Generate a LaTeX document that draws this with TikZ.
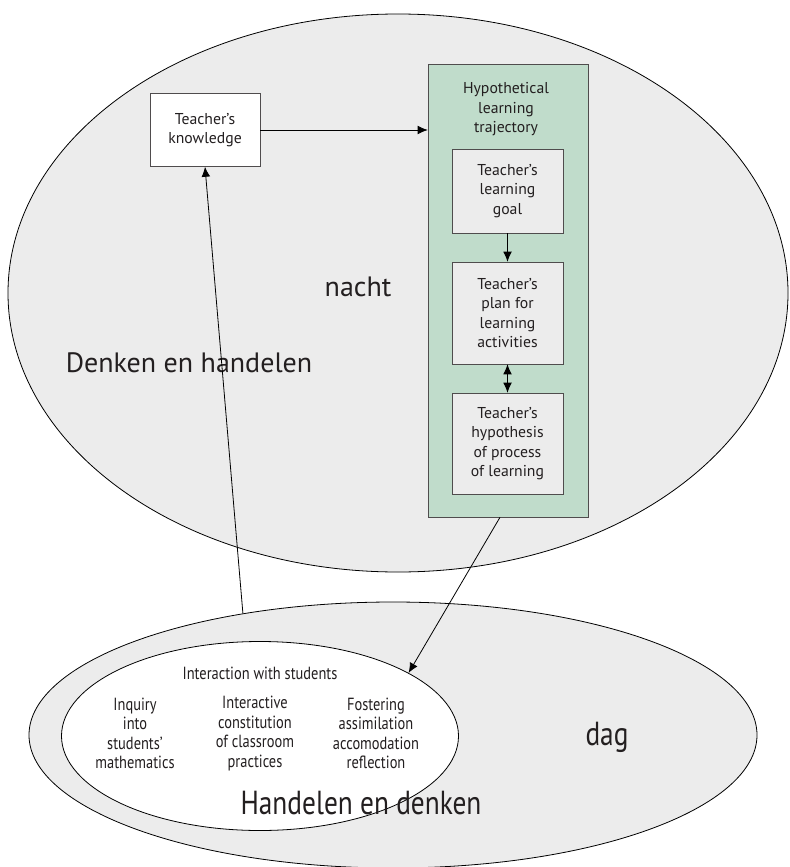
\documentclass[tikz,border=0pt]{standalone}
\usepackage{fontspec}
\setmainfont{PT Sans}
\newfontfamily\condfont[FakeStretch=0.82]{PT Sans}
\usetikzlibrary{shapes.geometric,arrows.meta}
\definecolor{ellgray}{RGB}{236,236,236}
\definecolor{hltgreen}{RGB}{192,220,203}
\definecolor{inkgray}{RGB}{35,31,32}

\begin{document}
\begin{tikzpicture}[x=0.75pt,y=-0.75pt,>={Latex[length=7.5pt,width=6.5pt]},
	ell/.style={ellipse,draw,inner sep=0pt,line width=0.6pt},
	tbox/.style={draw=inkgray!80,fill=ellgray,align=center,text=inkgray,inner sep=0pt,
		minimum width=83.25pt,font=\fontsize{11.8}{14.6}\selectfont},
	bigtext/.style={text=inkgray,font=\fontsize{21}{24}\selectfont},
	coltext/.style={align=center,text=inkgray,font=\condfont\fontsize{13.2}{14.6}\selectfont}]
	\useasboundingbox (0,0) rectangle (789,867);
	% nacht
	\node[ell,fill=ellgray,minimum width=585pt,minimum height=418.5pt] (nacht) at (398,293) {};
	\node[bigtext] (nachtlab) at (358,287) {nacht};
	\node[bigtext] (denken) at (189,363) {Denken en handelen};
	\node[tbox,fill=white,minimum width=82.5pt,minimum height=54.75pt] (know) at (205,130) {Teacher’s\\knowledge};
	% hypothetical learning trajectory
	\node[draw=inkgray!80,fill=hltgreen,minimum width=120pt,minimum height=339.75pt,inner sep=0pt] (hlt) at (508,290.5) {};
	\node[align=center,text=inkgray,font=\fontsize{11.8}{14.6}\selectfont] (hlttitle) at (506,109.5) {Hypothetical\\learning\\trajectory};
	\node[tbox,minimum height=63pt] (goal) at (507.5,191) {Teacher’s\\learning\\goal};
	\node[tbox,minimum height=76.5pt] (plan) at (507.5,313) {Teacher’s\\plan for\\learning\\activities};
	\node[tbox,minimum height=75.75pt] (hyp) at (507.5,443.5) {Teacher’s\\hypothesis\\of process\\of learning};
	% dag
	\node[ell,fill=ellgray,minimum width=546pt,minimum height=199.5pt] (dag) at (393,735) {};
	\node[ell,fill=white,minimum width=297.75pt,minimum height=141.75pt] (inter) at (260,736) {};
	\node[coltext] (intertitle) at (260,673) {Interaction with students};
	\node[coltext] (inquiry) at (135,733.5) {Inquiry\\into\\students’\\mathematics};
	\node[coltext] (constit) at (255,733.5) {Interactive\\constitution\\of classroom\\practices};
	\node[coltext] (foster) at (376,733.5) {Fostering\\assimilation\\accomodation\\reflection};
	\node[bigtext,font=\condfont\fontsize{25}{28}\selectfont] (daglab) at (607,737) {dag};
	\node[bigtext,font=\condfont\fontsize{25}{28}\selectfont] (handelen) at (361,803) {Handelen en denken};
	% connectors
	\draw[->,line width=0.6pt] (know.east) -- (know.east -| hlt.west);
	\draw[->,line width=0.6pt] (goal.south) -- (plan.north);
	\draw[<->,line width=0.6pt] (plan.south) -- (hyp.north);
	\draw[->,line width=0.6pt] (dag.141) -- (know.south);
	\draw[->,line width=0.6pt] ([xshift=-6pt]hlt.south) -- (inter.23);
\end{tikzpicture}
\end{document}
